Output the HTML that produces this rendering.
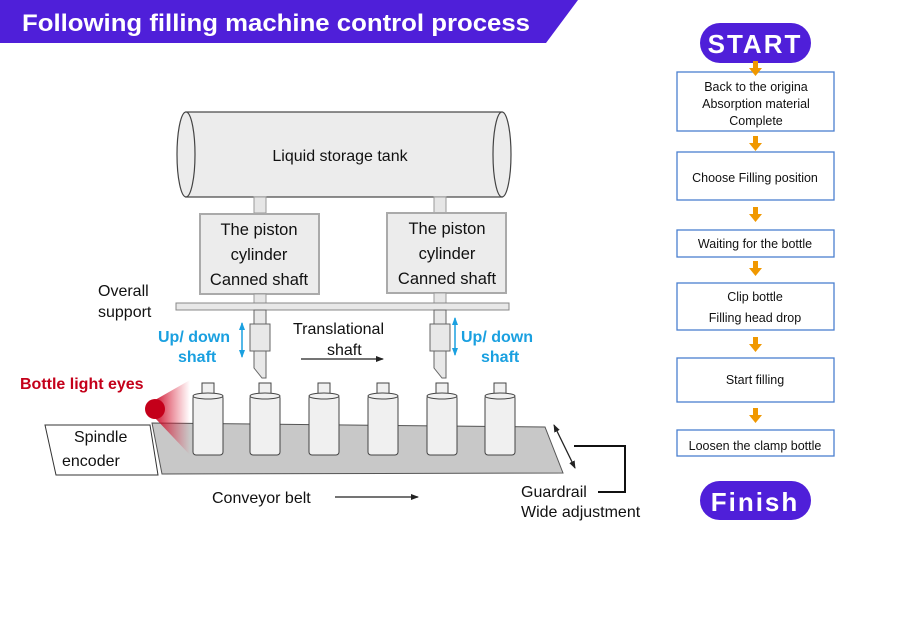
<!DOCTYPE html>
<html><head><meta charset="utf-8"><style>
body{margin:0;background:#fff;}
svg{display:block;font-family:"Liberation Sans","Noto Sans CJK SC",sans-serif;}
</style></head><body>
<svg width="900" height="617" viewBox="0 0 900 617" xmlns="http://www.w3.org/2000/svg">
<defs>
<linearGradient id="cone" x1="0" y1="0" x2="1" y2="0">
<stop offset="0" stop-color="#c8001e" stop-opacity="0.9"/>
<stop offset="1" stop-color="#e0203a" stop-opacity="0"/>
</linearGradient>
<marker id="ah" markerWidth="8" markerHeight="8" refX="7" refY="4" orient="auto" markerUnits="userSpaceOnUse">
<path d="M0,1 L8,4 L0,7 Z" fill="#222"/></marker>
<marker id="bh" markerWidth="8" markerHeight="8" refX="7" refY="4" orient="auto-start-reverse" markerUnits="userSpaceOnUse">
<path d="M0,1 L8,4 L0,7 Z" fill="#1aa0e0"/></marker>
<marker id="kh" markerWidth="8" markerHeight="8" refX="7" refY="4" orient="auto-start-reverse" markerUnits="userSpaceOnUse">
<path d="M0,1 L8,4 L0,7 Z" fill="#222"/></marker>
</defs>
<!-- banner -->
<polygon points="0,0 578,0 546,43 0,43" fill="#4f1fd9"/>
<text x="22" y="31" fill="#fff" font-size="24" font-weight="bold" textLength="508" lengthAdjust="spacingAndGlyphs">Following filling machine control process</text>

<!-- tank -->
<rect x="186" y="112" width="316" height="85" fill="#ececec" stroke="#444" stroke-width="1.2"/>
<ellipse cx="186" cy="154.5" rx="9" ry="42.5" fill="#ececec" stroke="#444" stroke-width="1.2"/>
<ellipse cx="502" cy="154.5" rx="9" ry="42.5" fill="#ececec" stroke="#444" stroke-width="1.2"/>
<text x="340" y="161" text-anchor="middle" font-size="16" fill="#111">Liquid storage tank</text>

<!-- stems -->
<rect x="254" y="197" width="12" height="16" fill="#e6e6e6" stroke="#999"/>
<rect x="434" y="197" width="12" height="16" fill="#e6e6e6" stroke="#999"/>
<rect x="200" y="214" width="119" height="80" fill="#ececec" stroke="#aaa" stroke-width="2"/>
<rect x="387" y="213" width="119" height="80" fill="#ececec" stroke="#aaa" stroke-width="2"/>
<g font-size="16.5" fill="#111" text-anchor="middle">
<text x="259" y="235">The piston</text><text x="259" y="260">cylinder</text><text x="259" y="285">Canned shaft</text>
<text x="447" y="234">The piston</text><text x="447" y="259">cylinder</text><text x="447" y="284">Canned shaft</text>
</g>
<rect x="254" y="294" width="12" height="10" fill="#e6e6e6" stroke="#999"/>
<rect x="434" y="293" width="12" height="10" fill="#e6e6e6" stroke="#999"/>
<rect x="176" y="303" width="333" height="7" fill="#e8e8e8" stroke="#888"/>
<text x="98" y="296" font-size="16" fill="#111">Overall</text>
<text x="98" y="317" font-size="16" fill="#111">support</text>

<!-- heads -->
<g fill="#e8e8e8" stroke="#666">
<rect x="254" y="310" width="12" height="14"/>
<rect x="250" y="324" width="20" height="27"/>
<path d="M254,351 L266,351 L266,378 L262,378 L254,368 Z"/>
<rect x="434" y="310" width="12" height="14"/>
<rect x="430" y="324" width="20" height="27"/>
<path d="M434,351 L446,351 L446,378 L442,378 L434,368 Z"/>
</g>
<line x1="242" y1="323" x2="242" y2="357" stroke="#1aa0e0" stroke-width="1.5" marker-start="url(#bh)" marker-end="url(#bh)"/>
<line x1="455" y1="318" x2="455" y2="355" stroke="#1aa0e0" stroke-width="1.5" marker-start="url(#bh)" marker-end="url(#bh)"/>
<g font-size="16" fill="#1aa0e0" font-weight="bold">
<text x="158" y="342">Up/ down</text><text x="178" y="362">shaft</text>
<text x="461" y="342">Up/ down</text><text x="481" y="362">shaft</text>
</g>
<text x="293" y="334" font-size="16" fill="#111">Translational</text>
<text x="327" y="355" font-size="16" fill="#111">shaft</text>
<line x1="301" y1="359" x2="383" y2="359" stroke="#222" stroke-width="1.3" marker-end="url(#ah)"/>

<!-- conveyor -->
<polygon points="152,423 545,427 563,473 162,474" fill="#c8c8c8" stroke="#555"/>
<polygon points="45,425 150,425 158,475 56,475" fill="#fff" stroke="#333"/>
<text x="74" y="442" font-size="16" fill="#111">Spindle</text>
<text x="62" y="466" font-size="16" fill="#111">encoder</text>
<!-- light eye -->
<polygon points="155,400 190,380 190,455 155,418" fill="url(#cone)"/>
<circle cx="155" cy="409" r="10" fill="#c4001a"/>
<text x="20" y="389" font-size="16" fill="#c4001a" font-weight="bold">Bottle light eyes</text>

<!-- bottles -->
<g fill="#f0f0f0" stroke="#444" stroke-width="1">
<g id="b"><rect x="202" y="383" width="12" height="12"/><rect x="193" y="395" width="30" height="60" rx="3"/><ellipse cx="208" cy="396" rx="15" ry="3"/></g>
<use href="#b" x="57"/><use href="#b" x="116"/><use href="#b" x="175"/><use href="#b" x="234"/><use href="#b" x="292"/>
</g>

<line x1="554" y1="425" x2="575" y2="468" stroke="#222" stroke-width="1.3" marker-start="url(#kh)" marker-end="url(#kh)"/>
<polyline points="574,446 625,446 625,492 598,492" fill="none" stroke="#111" stroke-width="2"/>
<text x="521" y="497" font-size="16" fill="#111">Guardrail</text>
<text x="521" y="517" font-size="16" fill="#111">Wide adjustment</text>
<text x="212" y="503" font-size="16" fill="#111">Conveyor belt</text>
<line x1="335" y1="497" x2="418" y2="497" stroke="#222" stroke-width="1.3" marker-end="url(#ah)"/>

<!-- flowchart -->
<rect x="700" y="23" width="111" height="40" rx="20" fill="#4f1fd9"/>
<text x="755" y="53" text-anchor="middle" font-size="26" font-weight="bold" fill="#fff" letter-spacing="2">START</text>
<rect x="700" y="481" width="111" height="39" rx="19.5" fill="#4f1fd9"/>
<text x="755" y="511" text-anchor="middle" font-size="26" font-weight="bold" fill="#fff" letter-spacing="2">Finish</text>
<g fill="#fff" stroke="#4a7fd0" stroke-width="1.3">
<rect x="677" y="72" width="157" height="59"/>
<rect x="677" y="152" width="157" height="48"/>
<rect x="677" y="230" width="157" height="27"/>
<rect x="677" y="283" width="157" height="47"/>
<rect x="677" y="358" width="157" height="44"/>
<rect x="677" y="430" width="157" height="26"/>
</g>
<g font-size="12.5" fill="#111" text-anchor="middle">
<text x="756" y="91">Back to the origina</text>
<text x="756" y="108">Absorption material</text>
<text x="756" y="125">Complete</text>
<text x="755" y="182">Choose Filling position</text>
<text x="755" y="248">Waiting for the bottle</text>
<text x="755" y="301">Clip bottle</text>
<text x="755" y="322">Filling head drop</text>
<text x="755" y="384">Start filling</text>
<text x="755" y="450">Loosen the clamp bottle</text>
</g>
<g fill="#f09800">
<g id="oa"><rect x="753" y="61" width="5" height="8"/><polygon points="749,68 762,68 755.5,76"/></g>
<use href="#oa" y="75"/><use href="#oa" y="146"/><use href="#oa" y="200"/><use href="#oa" y="276"/><use href="#oa" y="347"/>
</g>
</svg>
</body></html>
